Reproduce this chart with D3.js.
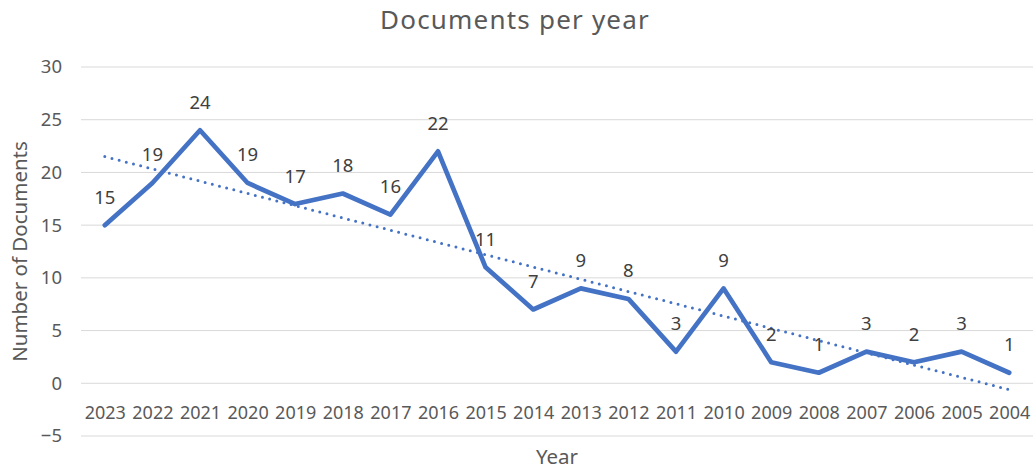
<!DOCTYPE html>
<html>
<head>
<meta charset="utf-8">
<script src="https://cdn.jsdelivr.net/npm/d3@7"></script>
<style>
  body { margin: 0; background: #fff; }
  text { font-family: 'Noto Sans', 'Open Sans', sans-serif; }
</style>
</head>
<body>
<div id="graf"></div>
<script>
// datos
years = ['2023','2022','2021','2020','2019','2018','2017','2016','2015','2014',
         '2013','2012','2011','2010','2009','2008','2007','2006','2005','2004']
docs = [15, 19, 24, 19, 17, 18, 16, 22, 11, 7, 9, 8, 3, 9, 2, 1, 3, 2, 3, 1]
yTicks = [-5, 0, 5, 10, 15, 20, 25, 30]

// configuración
ancho_total = 1036
alto_total = 470
margins = { top: 67, left: 81, right: 3, bottom: 34 }
ancho = ancho_total - margins.left - margins.right
alto = alto_total - margins.top - margins.bottom

svg = d3.select('#graf').append('svg')
  .attr('width', ancho_total)
  .attr('height', alto_total)

g = svg.append('g')
  .attr('transform', `translate(${margins.left}, ${margins.top})`)

x = d3.scalePoint().domain(years).range([0, ancho]).padding(0.5)
y = d3.scaleLinear().domain([-5, 30]).range([alto, 0])

// rejilla
g.selectAll('line.grid')
  .data(yTicks)
  .enter().append('line')
    .attr('class', 'grid')
    .attr('x1', 0).attr('x2', ancho)
    .attr('y1', d => y(d)).attr('y2', d => y(d))
    .attr('stroke', '#d9d9d9')
    .attr('stroke-width', 1)

// eje y
yAxis = g.append('g')
  .call(d3.axisLeft(y).tickValues(yTicks).tickSize(0).tickPadding(19))
yAxis.select('.domain').remove()
yAxis.selectAll('text')
  .attr('fill', '#595959')
  .style('font-size', '18.5px')

// eje x (etiquetas bajo la línea de cero)
xAxis = g.append('g')
  .attr('transform', `translate(0, ${y(0)})`)
  .call(d3.axisBottom(x).tickSize(0).tickPadding(23))
xAxis.select('.domain').remove()
xAxis.selectAll('text')
  .attr('fill', '#595959')
  .style('font-size', '18px')

// línea de tendencia (regresión lineal)
n = docs.length
xs = d3.range(1, n + 1)
mx = d3.mean(xs)
my = d3.mean(docs)
slope = d3.sum(xs, (v, i) => (v - mx) * (docs[i] - my)) / d3.sum(xs, v => (v - mx) ** 2)
inter = my - slope * mx

g.append('line')
  .attr('x1', x(years[0]))
  .attr('y1', y(inter + slope * 1))
  .attr('x2', x(years[n - 1]))
  .attr('y2', y(inter + slope * n))
  .attr('stroke', '#4472c4')
  .attr('stroke-width', 3)
  .attr('stroke-linecap', 'round')
  .attr('stroke-dasharray', '0 7.4')

// serie
linea = d3.line()
  .x((d, i) => x(years[i]))
  .y(d => y(d))

g.append('path')
  .datum(docs)
  .attr('d', linea)
  .attr('fill', 'none')
  .attr('stroke', '#4472c4')
  .attr('stroke-width', 4.7)
  .attr('stroke-linejoin', 'round')
  .attr('stroke-linecap', 'round')

// etiquetas de datos
g.selectAll('text.val')
  .data(docs)
  .enter().append('text')
    .attr('class', 'val')
    .attr('x', (d, i) => x(years[i]))
    .attr('y', d => y(d) - 28)
    .attr('dy', '0.35em')
    .attr('text-anchor', 'middle')
    .attr('fill', '#404040')
    .style('font-size', '18.5px')
    .text(d => d)

// títulos
svg.append('text')
  .attr('x', ancho_total / 2 - 3)
  .attr('y', 29)
  .attr('text-anchor', 'middle')
  .attr('fill', '#595959')
  .style('font-size', '26px')
  .style('letter-spacing', '1.2px')
  .text('Documents per year')

svg.append('text')
  .attr('x', margins.left + ancho / 2)
  .attr('y', 457)
  .attr('dy', '0.35em')
  .attr('text-anchor', 'middle')
  .attr('fill', '#595959')
  .style('font-size', '20.5px')
  .text('Year')

svg.append('text')
  .attr('transform', `translate(20, ${y(12.5) + margins.top}) rotate(-90)`)
  .attr('dy', '0.35em')
  .attr('text-anchor', 'middle')
  .attr('fill', '#595959')
  .style('font-size', '20.5px')
  .text('Number of Documents')
</script>
</body>
</html>
